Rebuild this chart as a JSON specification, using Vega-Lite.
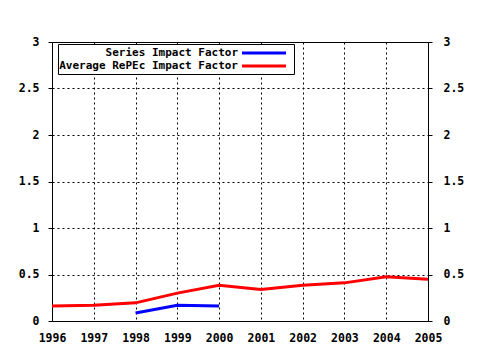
{
  "$schema": "https://vega.github.io/schema/vega-lite/v6.json",
  "width": 376,
  "height": 279,
  "autosize": {"type": "none"},
  "padding": {"left": 52, "top": 42, "right": 52, "bottom": 29},
  "background": "white",
  "config": {
    "view": {"stroke": "black", "strokeWidth": 1},
    "axis": {
      "labelFont": "DejaVu Sans Mono",
      "labelFontWeight": "bold",
      "labelFontSize": 11.5,
      "labelColor": "black",
      "labelOverlap": false,
      "labelBound": false,
      "labelFlush": false,
      "domain": false,
      "tickColor": "black",
      "gridColor": "black",
      "gridDash": [2, 3],
      "gridOpacity": 1,
      "title": null
    }
  },
  "data": {
    "values": [
      {"year": 1998, "value": 0.085, "series": "Series Impact Factor"},
      {"year": 1999, "value": 0.17, "series": "Series Impact Factor"},
      {"year": 2000, "value": 0.16, "series": "Series Impact Factor"},
      {"year": 1996, "value": 0.16, "series": "Average RePEc Impact Factor"},
      {"year": 1997, "value": 0.17, "series": "Average RePEc Impact Factor"},
      {"year": 1998, "value": 0.195, "series": "Average RePEc Impact Factor"},
      {"year": 1999, "value": 0.30, "series": "Average RePEc Impact Factor"},
      {"year": 2000, "value": 0.385, "series": "Average RePEc Impact Factor"},
      {"year": 2001, "value": 0.34, "series": "Average RePEc Impact Factor"},
      {"year": 2002, "value": 0.385, "series": "Average RePEc Impact Factor"},
      {"year": 2003, "value": 0.41, "series": "Average RePEc Impact Factor"},
      {"year": 2004, "value": 0.475, "series": "Average RePEc Impact Factor"},
      {"year": 2005, "value": 0.45, "series": "Average RePEc Impact Factor"}
    ]
  },
  "layer": [
    {
      "mark": {"type": "line", "strokeWidth": 3, "clip": true},
      "encoding": {
        "x": {
          "field": "year", "type": "quantitative",
          "scale": {"domain": [1996, 2005], "nice": false, "zero": false},
          "axis": {"values": [1996,1997,1998,1999,2000,2001,2002,2003,2004,2005], "format": "d", "tickSize": 0, "labelPadding": 11, "grid": true}
        },
        "y": {
          "field": "value", "type": "quantitative",
          "scale": {"domain": [0, 3], "nice": false},
          "axis": {"values": [0, 0.5, 1, 1.5, 2, 2.5, 3], "format": "~g", "tickSize": 4, "labelPadding": 9, "grid": true}
        },
        "color": {
          "field": "series", "type": "nominal",
          "scale": {"domain": ["Series Impact Factor", "Average RePEc Impact Factor"], "range": ["#0000ff", "#ff0000"]},
          "legend": {
            "title": null,
            "orient": "none",
            "legendX": 6,
            "legendY": 2,
            "symbolType": "M-4,0H4",
            "symbolStrokeWidth": 3,
            "symbolSize": 121,
            "symbolOffset": 197,
            "labelAlign": "right",
            "labelOffset": -33,
            "labelLimit": 0,
            "labelFont": "DejaVu Sans Mono",
            "labelFontWeight": "bold",
            "labelFontSize": 11,
            "labelColor": "black",
            "strokeColor": "black",
            "fillColor": "white",
            "padding": 2,
            "rowPadding": 0
          }
        }
      }
    },
    {
      "mark": {"type": "line", "opacity": 0},
      "encoding": {
        "x": {"field": "year", "type": "quantitative", "scale": {"domain": [1996, 2005], "nice": false, "zero": false}, "axis": {"orient": "top", "values": [1996,1997,1998,1999,2000,2001,2002,2003,2004,2005], "tickSize": 0, "labels": false, "grid": false}},
        "y": {"field": "value", "type": "quantitative", "scale": {"domain": [0, 3], "nice": false}, "axis": {"orient": "right", "values": [0, 0.5, 1, 1.5, 2, 2.5, 3], "format": "~g", "tickSize": 4, "labelPadding": 11, "grid": false}},
        "detail": {"field": "series"}
      }
    }
  ],
  "resolve": {"scale": {"x": "independent", "y": "independent"}, "axis": {"x": "independent", "y": "independent"}}
}
